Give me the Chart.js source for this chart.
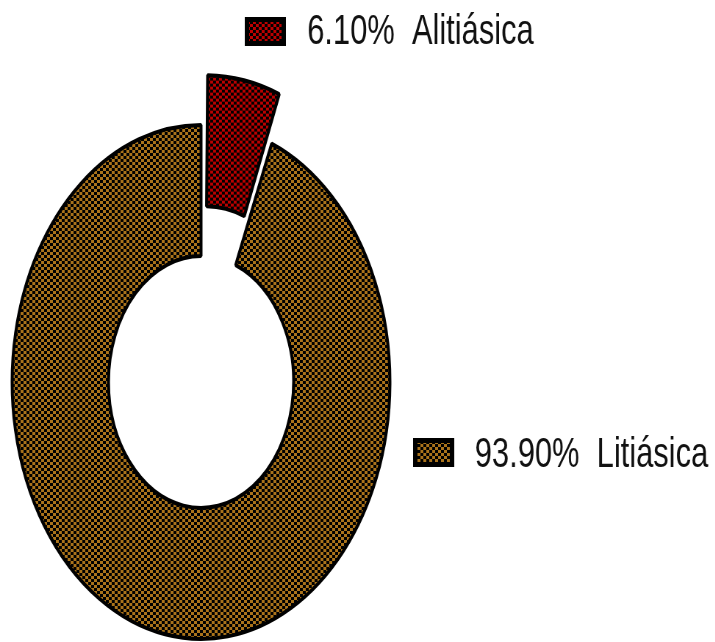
<!DOCTYPE html>
<html>
<head>
<meta charset="utf-8">
<script src="https://cdn.jsdelivr.net/npm/chart.js@4/dist/chart.umd.min.js"></script>
<style>
  html, body { margin: 0; padding: 0; background: #fff; overflow: hidden; }
  #frame { position: relative; width: 715px; height: 642px; overflow: hidden; }
  /* the chart is laid out wide and then narrowed, giving the tall ellipse and condensed type */
  #stage { position: absolute; left: 0; top: 0; width: 973px; height: 642px;
           transform: scaleX(0.735); transform-origin: 0 0; }
</style>
</head>
<body>
<div id="frame"><div id="stage"><canvas id="chart"></canvas></div></div>
<script>
const categories = ['Alitiásica', 'Litiásica'];
const percentages = [6.10, 93.90];
const cellColors = ['#bc0000', '#aa731b'];

const canvas = document.getElementById('chart');
const ctx2d = canvas.getContext('2d');

// checkerboard hatch: coloured cells alternating with black ones
function makeChecker(color) {
  const tile = document.createElement('canvas');
  tile.width = 8;
  tile.height = 6;
  const t = tile.getContext('2d');
  t.fillStyle = color;
  t.fillRect(0, 0, 8, 6);
  t.fillStyle = '#000';
  t.fillRect(0, 0, 4, 3);
  t.fillRect(4, 3, 4, 3);
  return ctx2d.createPattern(tile, 'repeat');
}
const fills = cellColors.map(makeChecker);

// key box + "xx.xx%  Name" next to each slice
const calloutPlugin = {
  id: 'callouts',
  afterDraw(chart, args, opts) {
    const ctx = chart.ctx;
    ctx.save();
    ctx.font = '42px "Liberation Sans", Arial, sans-serif';
    ctx.textBaseline = 'alphabetic';
    ctx.textAlign = 'left';
    categories.forEach((name, i) => {
      const s = opts.spots[i];
      ctx.fillStyle = '#000';
      ctx.fillRect(s.x, s.y, 56, 29);
      ctx.fillStyle = fills[i];
      ctx.fillRect(s.x + 6, s.y + 5, 44, 19);
      ctx.fillStyle = '#111';
      ctx.fillText(percentages[i].toFixed(2) + '%  ' + name, s.tx, s.ty);
    });
    ctx.restore();
  }
};

new Chart(canvas, {
  type: 'doughnut',
  data: {
    labels: categories,
    datasets: [{
      data: percentages,
      backgroundColor: fills,
      hoverBackgroundColor: fills,
      borderColor: '#000',
      borderWidth: 4,
      offset: [124, 0]
    }]
  },
  options: {
    responsive: true,
    maintainAspectRatio: false,
    animation: false,
    rotation: 0,
    radius: 257,
    cutout: '49%',
    layout: { padding: { left: 0, right: 426, top: 122, bottom: 0 } },
    plugins: {
      legend: { display: false },
      tooltip: { enabled: false },
      callouts: {
        spots: [
          { x: 333, y: 17, tx: 418, ty: 44 },
          { x: 562, y: 438, tx: 646, ty: 467 }
        ]
      }
    }
  },
  plugins: [calloutPlugin]
});
</script>
</body>
</html>
